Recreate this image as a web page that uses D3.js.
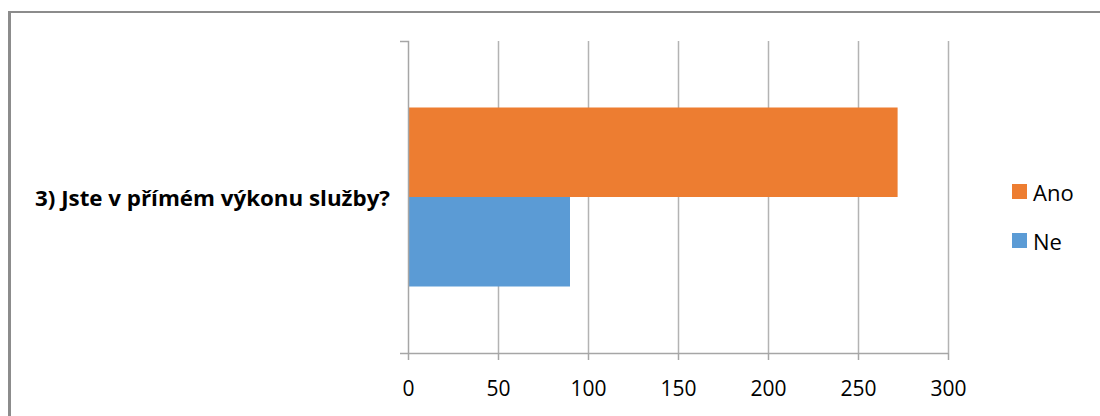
<!DOCTYPE html>
<html>
<head>
<meta charset="utf-8">
<script src="https://cdn.jsdelivr.net/npm/d3@7"></script>
<style>
  html, body { margin: 0; padding: 0; background: #fff; }
  svg { display: block; }
</style>
</head>
<body>
<svg id="chart" width="1100" height="416"></svg>
<script>
// Survey question and answer counts
const categories = ["3) Jste v přímém výkonu služby?"];
const seriesNames = ["Ano", "Ne"];
const seriesValues = [272, 90];
const seriesColors = ["#ED7D31", "#5B9BD5"];
const xTicks = [0, 50, 100, 150, 200, 250, 300];

const svg = d3.select("#chart");
const W = 1100, H = 416;

// frame around the chart area
svg.append("rect").attr("x", 0).attr("y", 0).attr("width", W).attr("height", H).attr("fill", "#fff");
svg.append("line").attr("x1", 8).attr("x2", W).attr("y1", 12).attr("y2", 12)
  .attr("stroke", "#8c8c8c").attr("stroke-width", 2);
svg.append("line").attr("x1", 9.5).attr("x2", 9.5).attr("y1", 11).attr("y2", H)
  .attr("stroke", "#8c8c8c").attr("stroke-width", 3);

const plot = { left: 408, right: 948, top: 41, bottom: 353 };

const x = d3.scaleLinear().domain([0, 300]).range([plot.left, plot.right]);
const y = d3.scaleBand().domain(categories).range([plot.top, plot.bottom]).paddingInner(0).paddingOuter(0);
// series within the category band (wide gap above and below the pair of bars)
const inner = d3.scaleBand().domain(seriesNames)
  .range([0, y.bandwidth()]).paddingOuter(0.743).paddingInner(0);

// vertical gridlines
svg.append("g").selectAll("line").data(xTicks.slice(1)).join("line")
  .attr("x1", d => x(d) + 0.5).attr("x2", d => x(d) + 0.5)
  .attr("y1", plot.top).attr("y2", plot.bottom)
  .attr("stroke", "#b3b3b3").attr("stroke-width", 1.5);

// bars
const rows = seriesNames.map((s, i) => ({ cat: categories[0], name: s, value: seriesValues[i], color: seriesColors[i] }));
svg.append("g").selectAll("rect").data(rows).join("rect")
  .attr("x", x(0))
  .attr("y", d => y(d.cat) + inner(d.name))
  .attr("width", d => x(d.value) - x(0))
  .attr("height", inner.bandwidth())
  .attr("fill", d => d.color);

// x axis
const xAxis = d3.axisBottom(x).tickValues(xTicks).tickSize(7).tickPadding(21);
const gx = svg.append("g").attr("transform", `translate(0,${plot.bottom})`).call(xAxis);
gx.select(".domain").attr("d", `M${plot.left - 8},0.5H${plot.right}`).attr("stroke", "#a6a6a6").attr("stroke-width", 1.5);
gx.selectAll(".tick line").attr("stroke", "#a6a6a6").attr("stroke-width", 1.5);
gx.selectAll(".tick text").attr("font-family", "'Open Sans', sans-serif").attr("font-size", 21).attr("fill", "#000");

// y axis
const yAxis = d3.axisLeft(y).tickSize(0).tickFormat("");
const gy = svg.append("g").attr("transform", `translate(${plot.left},0)`).call(yAxis);
gy.select(".domain").attr("d", `M-8,${plot.top + 0.5}H0.5V${plot.bottom}`).attr("fill", "none")
  .attr("stroke", "#a6a6a6").attr("stroke-width", 1.5);

// category label
svg.append("text")
  .attr("x", 390).attr("y", y(categories[0]) + y.bandwidth() / 2)
  .attr("text-anchor", "end").attr("dominant-baseline", "central")
  .attr("font-family", "'Open Sans', sans-serif").attr("font-weight", "bold")
  .attr("font-size", 22).attr("fill", "#000")
  .attr("textLength", 355).attr("lengthAdjust", "spacingAndGlyphs")
  .text(categories[0]);

// legend
const legend = svg.append("g").attr("transform", "translate(1012,184)");
const li = legend.selectAll("g").data(rows).join("g")
  .attr("transform", (d, i) => `translate(0,${i * 49})`);
li.append("rect").attr("width", 15).attr("height", 15).attr("fill", d => d.color);
li.append("text").attr("x", 21).attr("y", 8).attr("dominant-baseline", "central")
  .attr("font-family", "'Open Sans', sans-serif").attr("font-size", 22).attr("fill", "#000")
  .text(d => d.name);
</script>
</body>
</html>
